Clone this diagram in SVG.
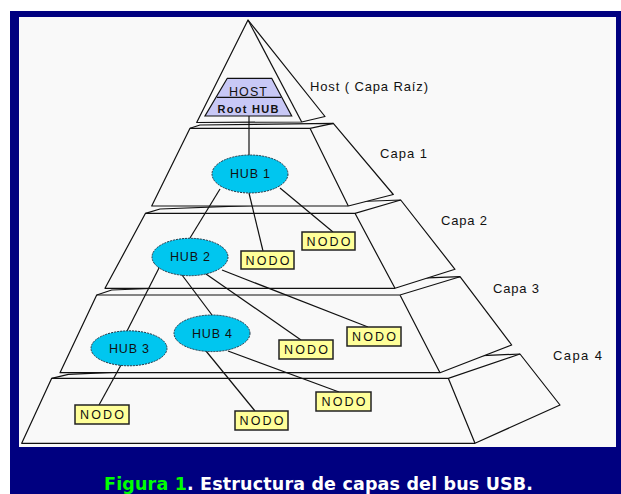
<svg xmlns="http://www.w3.org/2000/svg" width="621" height="494" viewBox="0 0 621 494">
<style>
.slab{fill:#f9f9f9;stroke:#111;stroke-width:1.2;stroke-linejoin:round}
.edge{fill:none;stroke:#111;stroke-width:1.2}
.hub{fill:#00c6ef;stroke:#234;stroke-width:1;stroke-dasharray:2 1}
.nodo{fill:#ffff99;stroke:#222;stroke-width:1.5}
.conn line{stroke:#111;stroke-width:1.2}
.lbl{font-family:"Liberation Sans",Arial,sans-serif;font-size:13px;fill:#111}
.ntx{font-family:"Liberation Sans",Arial,sans-serif;font-size:12.5px;fill:#111;text-anchor:middle}
</style>
<rect x="0" y="0" width="621" height="494" fill="#ffffff"/>
<rect x="10" y="11" width="611" height="483" fill="#000080"/>
<rect x="19" y="17" width="597" height="430" fill="#f9f9f9"/>

<g id="capa4">
<path class="slab" d="M68.3,374.3 L520,354 L560,405 L475,443.3 L21.7,443.3 L51.7,378.3 Z"/>
<path class="edge" d="M51.7,378.3 L448.3,378.3 L520,354 M448.3,378.3 L475,443.3"/>
</g>
<g id="capa3">
<path class="slab" d="M111.7,290 L460,276.7 L511.7,345 L440,372.7 L60,372.7 L96.7,295 Z"/>
<path class="edge" d="M96.7,295 L400,295 L460,276.7 M400,295 L440,372.7"/>
</g>
<g id="capa2">
<path class="slab" d="M160,209 L400.7,200 L455,269.3 L395,288.3 L105,288.3 L145.5,213.3 Z"/>
<path class="edge" d="M145.5,213.3 L355,213.3 L400.7,200 M355,213.3 L395,288.3"/>
</g>
<g id="capa1">
<path class="slab" d="M200,125 L333.3,123.3 L393.3,194.5 L348.3,206 L151.7,206 L190,128.3 Z"/>
<path class="edge" d="M190,128.3 L310,128.3 L333.3,123.3 M310,128.3 L348.3,206"/>
</g>
<g id="host-capa">
<path class="slab" d="M248,20 L325,116.5 L301.7,122 L196.7,122.5 Z"/>
<path class="edge" d="M248,20 L301.7,122"/>
</g>

<g id="conectores" class="conn">
<line x1="249" y1="116" x2="249" y2="155"/>
<line x1="220" y1="189" x2="190" y2="238"/>
<line x1="249" y1="193" x2="263" y2="251"/>
<line x1="280" y1="188" x2="333" y2="232"/>
<line x1="160" y1="266" x2="127" y2="331"/>
<line x1="182" y1="275" x2="212" y2="315"/>
<line x1="206" y1="274" x2="301" y2="340"/>
<line x1="222" y1="270" x2="368" y2="327"/>
<line x1="121" y1="365" x2="99" y2="405"/>
<line x1="206" y1="351" x2="255" y2="411"/>
<line x1="228" y1="351" x2="339" y2="392"/>
</g>

<g id="host">
<path d="M227.3,78.3 L271.7,78.3 L291.7,116 L205,116 Z" fill="#c8c8f6" stroke="#111" stroke-width="1.2"/>
<line x1="217" y1="97.3" x2="281" y2="97.3" stroke="#111" stroke-width="1.2"/>
<text class="ntx" x="248" y="96" textLength="38" font-size="12.5">HOST</text>
<text class="ntx" x="248" y="113" textLength="61" style="font-size:11px;font-weight:bold">Root HUB</text>
</g>

<g id="hub1"><ellipse class="hub" cx="250" cy="174" rx="38" ry="19"/><text class="ntx" x="250" y="178" textLength="40">HUB 1</text></g>
<g id="hub2"><ellipse class="hub" cx="190" cy="257" rx="38" ry="18.7"/><text class="ntx" x="190" y="261" textLength="40">HUB 2</text></g>
<g id="hub3"><ellipse class="hub" cx="129" cy="348.3" rx="38" ry="17.5"/><text class="ntx" x="129" y="352.5" textLength="40">HUB 3</text></g>
<g id="hub4"><ellipse class="hub" cx="212" cy="333.3" rx="38" ry="18.3"/><text class="ntx" x="212" y="337.5" textLength="40">HUB 4</text></g>

<g id="nodo1"><rect class="nodo" x="302" y="232" width="53" height="18"/><text class="ntx" x="328.5" y="245.5" textLength="44">NODO</text></g>
<g id="nodo2"><rect class="nodo" x="241" y="251" width="53" height="18"/><text class="ntx" x="267.5" y="264.5" textLength="44">NODO</text></g>
<g id="nodo3"><rect class="nodo" x="347" y="327" width="54" height="19"/><text class="ntx" x="374" y="341" textLength="44">NODO</text></g>
<g id="nodo4"><rect class="nodo" x="279" y="340" width="54" height="19"/><text class="ntx" x="306" y="354" textLength="44">NODO</text></g>
<g id="nodo5"><rect class="nodo" x="75" y="405" width="54" height="19"/><text class="ntx" x="102" y="419" textLength="44">NODO</text></g>
<g id="nodo6"><rect class="nodo" x="235" y="411" width="53" height="19"/><text class="ntx" x="261.5" y="425" textLength="44">NODO</text></g>
<g id="nodo7"><rect class="nodo" x="316" y="392" width="55" height="19"/><text class="ntx" x="343.5" y="406" textLength="44">NODO</text></g>

<g id="etiquetas">
<text class="lbl" x="310" y="91" textLength="118">Host ( Capa Raíz)</text>
<text class="lbl" x="380" y="158" textLength="47">Capa 1</text>
<text class="lbl" x="441" y="225" textLength="46">Capa 2</text>
<text class="lbl" x="493" y="293" textLength="46">Capa 3</text>
<text class="lbl" x="553" y="360" textLength="49">Capa 4</text>
</g>

<text x="104" y="490" textLength="429" style="font-family:'DejaVu Sans',Verdana,sans-serif;font-size:17.5px;font-weight:bold" fill="#ffffff"><tspan fill="#00ff00">Figura 1</tspan>. Estructura de capas del bus USB.</text>
</svg>
